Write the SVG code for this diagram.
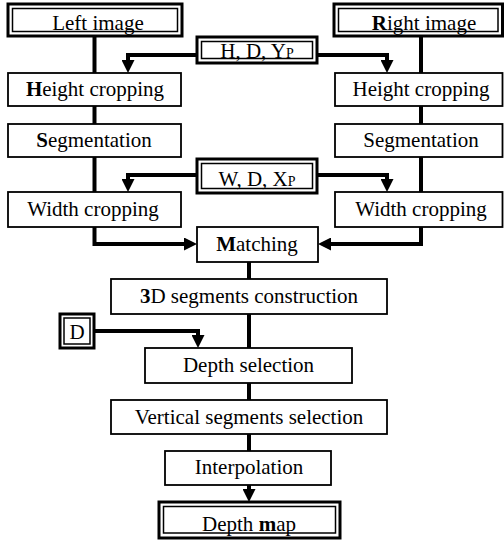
<svg xmlns="http://www.w3.org/2000/svg" width="504" height="541" viewBox="0 0 504 541">
<style>
rect{fill:#fff;stroke:#000}
.b{stroke-width:1.8}
.o{stroke-width:3}
.i{stroke-width:1.5}
text{font-family:'Liberation Serif','Times New Roman','DejaVu Serif',serif;font-size:21px;fill:#000;text-anchor:middle}
.c path{fill:none;stroke:#000;stroke-width:4}
.bd{font-weight:bold}
</style>
<defs>
<marker id="ah" markerUnits="userSpaceOnUse" viewBox="0 0 13 13" refX="6" refY="6.5" markerWidth="13" markerHeight="13" orient="auto">
<path d="M0,0 L13,6.5 L0,13 z" fill="#000"/>
</marker>
</defs>
<g class="c" id="connectors">
<path d="M94.5,36 V73"/>
<path d="M94.5,106 V124"/>
<path d="M94.5,157 V192"/>
<path d="M94.5,227 V244 H190" marker-end="url(#ah)"/>
<path d="M421,36 V73"/>
<path d="M421,106 V124"/>
<path d="M421,157 V192"/>
<path d="M421,227 V244 H325" marker-end="url(#ah)"/>
<path d="M196,55 H128 V66" marker-end="url(#ah)"/>
<path d="M318,55 H387 V66" marker-end="url(#ah)"/>
<path d="M196,175 H128 V185" marker-end="url(#ah)"/>
<path d="M318,175 H387 V185" marker-end="url(#ah)"/>
<path d="M249,262 V279"/>
<path d="M249,314 V348"/>
<path d="M95,331 H198 V341" marker-end="url(#ah)"/>
<path d="M249,383 V400"/>
<path d="M249,434 V451"/>
<path d="M249,485 V495" marker-end="url(#ah)"/>
</g>
<g font-family="Liberation Serif, Times New Roman, serif">
<g id="left-image">
<rect class="o" x="8" y="4" width="174" height="32"/>
<rect class="i" x="12.5" y="8.5" width="165" height="23"/>
<text x="98" y="30">Left image</text>
</g>
<g id="right-image">
<rect class="o" x="334" y="4" width="168.5" height="32"/>
<rect class="i" x="338.5" y="8.5" width="159.5" height="23"/>
<text x="424" y="30"><tspan class="bd">R</tspan>ight image</text>
</g>
<g id="hdy">
<rect class="o" x="197" y="37" width="120" height="26"/>
<rect class="i" x="201.5" y="41.5" width="111" height="17"/>
<text x="257" y="58">H, D, Y<tspan font-size="14">P</tspan></text>
</g>
<g id="height-left">
<rect class="b" x="8" y="73" width="173" height="33"/>
<text x="95" y="96"><tspan class="bd">H</tspan>eight cropping</text>
</g>
<g id="height-right">
<rect class="b" x="335" y="73" width="167.5" height="33"/>
<text x="421" y="96">Height cropping</text>
</g>
<g id="seg-left">
<rect class="b" x="8" y="124" width="173" height="33"/>
<text x="94" y="147"><tspan class="bd">S</tspan>egmentation</text>
</g>
<g id="seg-right">
<rect class="b" x="335" y="124" width="167.5" height="33"/>
<text x="421" y="147">Segmentation</text>
</g>
<g id="wdx">
<rect class="o" x="197" y="159" width="120" height="34"/>
<rect class="i" x="201.5" y="163.5" width="111" height="25"/>
<text x="257" y="186">W, D, X<tspan font-size="14">P</tspan></text>
</g>
<g id="width-left">
<rect class="b" x="8" y="192" width="173" height="35"/>
<text x="93" y="216">Width cropping</text>
</g>
<g id="width-right">
<rect class="b" x="335" y="192" width="167.5" height="35"/>
<text x="421" y="216">Width cropping</text>
</g>
<g id="matching">
<rect class="b" x="197" y="227" width="121" height="35"/>
<text x="257" y="251"><tspan class="bd">M</tspan>atching</text>
</g>
<g id="construction">
<rect class="b" x="111" y="279" width="276" height="35"/>
<text x="249" y="303"><tspan class="bd">3</tspan>D segments construction</text>
</g>
<g id="d">
<rect class="o" x="60" y="314" width="34" height="34"/>
<rect class="i" x="64" y="318" width="26" height="26"/>
<text x="77" y="339">D</text>
</g>
<g id="depth-selection">
<rect class="b" x="145" y="348" width="207" height="35"/>
<text x="248.5" y="372">Depth selection</text>
</g>
<g id="vertical">
<rect class="b" x="111" y="400" width="276" height="34"/>
<text x="249" y="424">Vertical segments  selection</text>
</g>
<g id="interpolation">
<rect class="b" x="165" y="451" width="166" height="34"/>
<text x="249" y="474">Interpolation</text>
</g>
<g id="depth-map">
<rect class="o" x="159" y="502" width="181" height="36"/>
<rect class="i" x="163.5" y="506.5" width="172" height="26.5"/>
<text x="249" y="531">Depth <tspan class="bd">m</tspan>ap</text>
</g>
</g>
</svg>
